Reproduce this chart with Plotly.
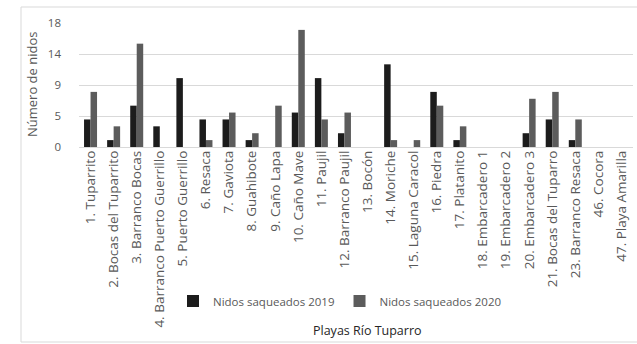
import plotly.graph_objects as go

categories = ["1. Tuparrito", "2. Bocas del Tuparrito", "3. Barranco Bocas",
              "4. Barranco Puerto Guerrillo", "5. Puerto Guerrillo", "6. Resaca",
              "7. Gaviota", "8. Guahibote", "9. Caño Lapa", "10. Caño Mave",
              "11. Paujil", "12. Barranco Paujil", "13. Bocón", "14. Moriche",
              "15. Laguna Caracol", "16. Piedra", "17. Platanito", "18. Embarcadero 1",
              "19. Embarcadero 2", "20. Embarcadero 3", "21. Bocas del Tuparro",
              "23. Barranco Resaca", "46. Cocora", "47. Playa Amarilla"]
nidos_2019 = [4, 1, 6, 3, 10, 4, 4, 1, 0, 5, 10, 2, 0, 12, 0, 8, 1, 0, 0, 2, 4, 1, 0, 0]
nidos_2020 = [8, 3, 15, 0, 0, 1, 5, 2, 6, 17, 4, 5, 0, 1, 1, 6, 3, 0, 0, 7, 8, 4, 0, 0]
ytick_vals = [0, 4.5, 9, 13.5, 18]
ytick_text = ["0", "5", "9", "14", "18"]

FONT = "Open Sans"
fig = go.Figure()
fig.add_trace(go.Bar(x=categories, y=nidos_2019, name="Nidos saqueados 2019",
                     marker=dict(color="#1c1c1c", line=dict(width=0))))
fig.add_trace(go.Bar(x=categories, y=nidos_2020, name="Nidos saqueados 2020",
                     marker=dict(color="#5c5c5c", line=dict(width=0))))

L, R, T, B = 79, 4, 23, 197
W, H = 637, 344
pw = W - L - R
ph = H - T - B

def px_x(x):
    return (x - L) / pw

def px_y(y):
    return (H - B - y) / ph

fig.update_layout(
    width=W, height=H,
    margin=dict(l=L, r=R, t=T, b=B, pad=0),
    paper_bgcolor="white", plot_bgcolor="white",
    barmode="group", bargap=0.437, bargroupgap=0,
    font=dict(family=FONT, color="#595959", size=11),
    showlegend=True,
    legend=dict(orientation="h", x=px_x(340), xanchor="center",
                y=px_y(301), yanchor="middle", bgcolor="rgba(0,0,0,0)",
                font=dict(size=11.5, color="#595959"), itemwidth=30),
    xaxis=dict(showgrid=False, showline=False, ticks="", tickangle=-90,
               tickfont=dict(size=13.5, color="#595959"), automargin=False),
    yaxis=dict(range=[0, 18], tickvals=ytick_vals, ticktext=ytick_text,
               showgrid=True, gridcolor="#d9d9d9", gridwidth=1,
               zeroline=True, zerolinecolor="#d9d9d9", zerolinewidth=1,
               showline=False, ticks="", ticklabelstandoff=17,
               tickfont=dict(size=11.5, color="#595959"), automargin=False),
    annotations=[
        dict(text="Número de nidos", x=px_x(32), y=0.5, xref="paper", yref="paper",
             textangle=-90, showarrow=False, font=dict(size=13, color="#595959"),
             xanchor="center", yanchor="middle"),
        dict(text="Playas Río Tuparro", x=px_x(367), y=px_y(330), xref="paper", yref="paper",
             showarrow=False, font=dict(size=12.5, color="#262626"),
             xanchor="center", yanchor="middle"),
    ],
    shapes=[dict(type="rect", xref="paper", yref="paper",
                 x0=px_x(21), x1=px_x(660), y0=px_y(342), y1=px_y(7),
                 line=dict(color="#d9d9d9", width=1), layer="below")],
)

fig.write_html("out.html", config={"displayModeBar": False},
               post_script="document.body.style.margin='0';document.body.style.overflow='hidden';")
